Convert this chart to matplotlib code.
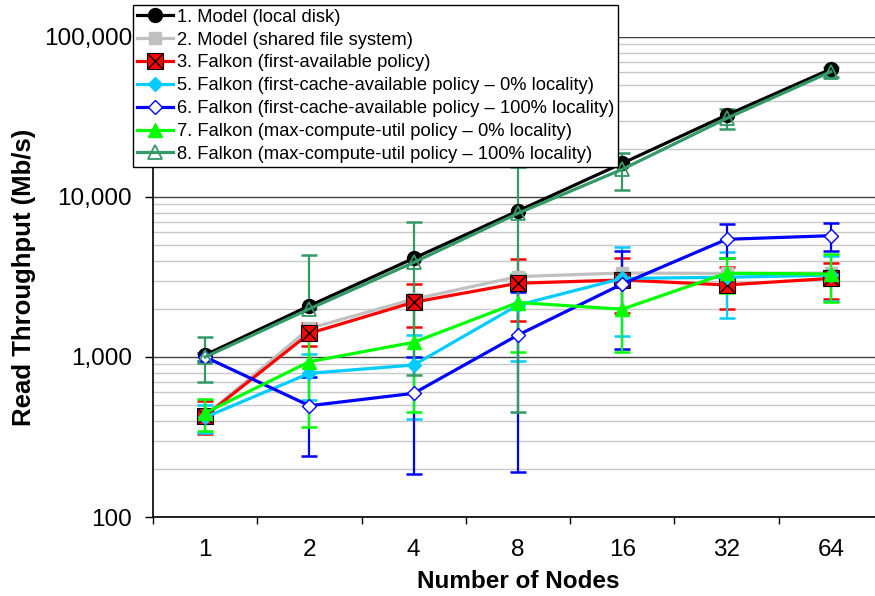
import numpy as np
import matplotlib
matplotlib.use('Agg')
from matplotlib import pyplot as plt
from matplotlib.ticker import FixedLocator, LogLocator, FuncFormatter, NullFormatter
from matplotlib.legend_handler import HandlerTuple

plt.rcParams['font.family'] = ['Liberation Sans', 'DejaVu Sans']

nodes = ['1', '2', '4', '8', '16', '32', '64']

# values (Mb/s)
model_local = [1030, 2090, 4140, 8180, 16240, 32500, 63000]
model_shared = [430, 1510, 2300, 3180, 3350, 3330, 3350]
first_avail = [428, 1406, 2200, 2890, 3030, 2820, 3100]
first_avail_err = [100, 230, 670, 1220, 1150, 830, 780]
fca_0 = [420, 791, 891, 2110, 3100, 3150, 3250]
fca_0_err = [84, 250, 480, 1170, 1750, 1400, 1000]
fca_100 = [1000, 496, 593, 1372, 2860, 5440, 5730]
fca_100_err = [60, 256, 406, 1180, 1740, 1300, 1100]
mcu_0 = [447, 935, 1236, 2190, 1990, 3340, 3300]
mcu_0_err = [100, 568, 781, 1110, 910, 840, 1090]
mcu_100 = [1000, 2000, 3900, 7910, 14900, 31000, 60700]
mcu_100_err_lo = [300, 0, 3125, 7455, 3840, 4500, 4500]
mcu_100_err_hi = [340, 2340, 3115, 7455, 3840, 4500, 4500]

labels = ['1. Model (local disk)',
          '2. Model (shared file system)',
          '3. Falkon (first-available policy)',
          '5. Falkon (first-cache-available policy \u2013 0% locality)',
          '6. Falkon (first-cache-available policy \u2013 100% locality)',
          '7. Falkon (max-compute-util policy \u2013 0% locality)',
          '8. Falkon (max-compute-util policy \u2013 100% locality)']

fig = plt.figure(figsize=(8.75, 5.96), dpi=100)
ax = fig.add_axes([153 / 875, 1 - 517 / 596, 730 / 875, 480 / 596])
x = np.arange(len(nodes))

lw = 2.3
eb = dict(fmt='none', elinewidth=1.6, capsize=6, capthick=1.8)

h1, = ax.plot(x, model_local, color='black', lw=lw, marker='o', ms=10,
              mfc='black', mec='black', label=labels[0], zorder=3)
h2, = ax.plot(x, model_shared, color='#C0C0C0', lw=lw, marker='s', ms=9,
              mfc='#C0C0C0', mec='#C0C0C0', label=labels[1], zorder=3)

ax.errorbar(x, first_avail, yerr=first_avail_err, ecolor='#FF0000', zorder=2, **eb)
h3, = ax.plot(x, first_avail, color='#FF0000', lw=lw, marker='s', ms=11,
              mfc='#FF0000', mec='black', mew=0.8, label=labels[2], zorder=3)
h3x, = ax.plot(x, first_avail, ls='none', marker='x', ms=10, mec='black',
               mew=1.0, zorder=3)

ax.errorbar(x, fca_0, yerr=fca_0_err, ecolor='#00CCFF', zorder=2, **eb)
h5, = ax.plot(x, fca_0, color='#00CCFF', lw=lw, marker='D', ms=7,
              mfc='#00CCFF', mec='#00CCFF', label=labels[3], zorder=3)

ax.errorbar(x, fca_100, yerr=fca_100_err, ecolor='#0000FF', zorder=2, **eb)
h6, = ax.plot(x, fca_100, color='#0000FF', lw=lw, marker='D', ms=7,
              mfc='white', mec='#0000FF', mew=1.0, label=labels[4], zorder=3)

ax.errorbar(x, mcu_0, yerr=mcu_0_err, ecolor='#00FF00', zorder=2, **eb)
h7, = ax.plot(x, mcu_0, color='#00FF00', lw=lw, marker='^', ms=10,
              mfc='#00FF00', mec='#00FF00', label=labels[5], zorder=3)

ax.errorbar(x, mcu_100, yerr=[mcu_100_err_lo, mcu_100_err_hi], ecolor='#339966',
            zorder=2.5, **eb)
h8, = ax.plot(x, mcu_100, color='#339966', lw=lw, marker='^', ms=10,
              mfc='none', mec='#339966', mew=1.3, label=labels[6], zorder=3)

ax.set_yscale('log')
ax.set_ylim(100, 100000)
ax.set_xlim(-0.5, len(nodes) - 0.5)

ax.yaxis.set_major_locator(FixedLocator([100, 1000, 10000, 100000]))
ax.yaxis.set_major_formatter(FuncFormatter(lambda v, p: '{:,.0f}'.format(v)))
ax.yaxis.set_minor_locator(LogLocator(base=10, subs=np.arange(2, 10)))
ax.yaxis.set_minor_formatter(NullFormatter())
ax.yaxis.grid(True, which='major', color='#404040', lw=1.0)
ax.yaxis.grid(True, which='minor', color='#C8C8C8', lw=1.0)
ax.set_axisbelow(True)

ax.set_xticks(x)
ax.set_xticklabels(nodes)
ax.set_xticks(np.arange(-0.5, len(nodes), 1), minor=True)
ax.tick_params(axis='x', which='major', length=0, pad=16, labelsize=17.5)
ax.tick_params(axis='x', which='minor', length=5, width=1, direction='out')
ax.tick_params(axis='y', which='major', length=6, width=1, direction='out',
               pad=9, labelsize=17.5)
ax.tick_params(axis='y', which='minor', length=0)

ax.spines['top'].set_visible(False)
ax.spines['right'].set_visible(False)
ax.spines['left'].set_linewidth(1.2)
ax.spines['bottom'].set_linewidth(1.2)

ax.set_xlabel('Number of Nodes', fontsize=17.5, fontweight='bold', labelpad=6)
ax.set_ylabel('Read Throughput (Mb/s)', fontsize=18.5, fontweight='bold', labelpad=6)

leg = ax.legend([h1, h2, (h3, h3x), h5, h6, h7, h8], labels,
                handler_map={tuple: HandlerTuple(ndivide=1)},
                loc='upper left', bbox_to_anchor=(133 / 875, 1 - 5 / 596),
                bbox_transform=fig.transFigure, borderaxespad=0,
                fontsize=13.2, frameon=True, fancybox=False, framealpha=1,
                edgecolor='black', handlelength=2.0, handletextpad=0.2,
                labelspacing=0.32, borderpad=0.2)
leg.get_frame().set_linewidth(1.0)
leg.set_zorder(10)

plt.savefig('out.png', dpi=100)
